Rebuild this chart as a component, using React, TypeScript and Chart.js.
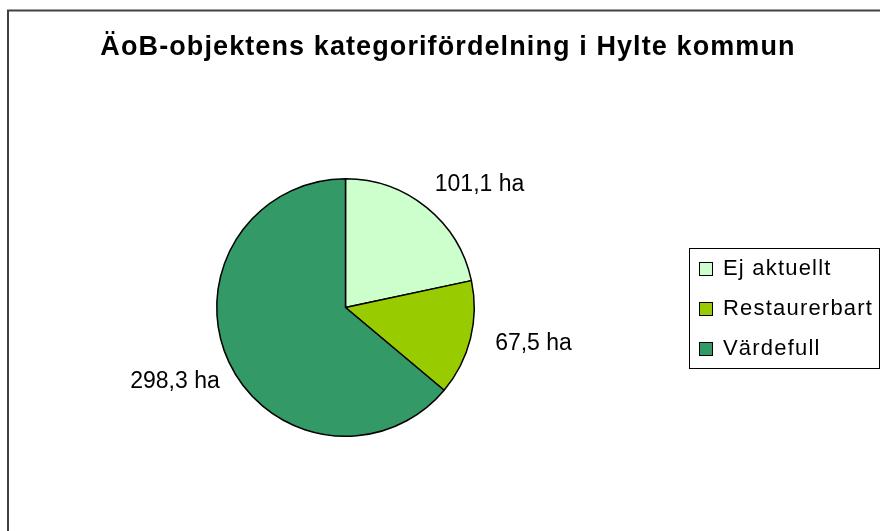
import React, { useEffect, useRef } from "react";
import { Chart, registerables } from "chart.js";

Chart.register(...registerables);

const title = "ÄoB-objektens kategorifördelning i Hylte kommun";
const categories = ["Ej aktuellt", "Restaurerbart", "Värdefull"];
const areas = [101.1, 67.5, 298.3];
const valueLabels = ["101,1 ha", "67,5 ha", "298,3 ha"];
const colors = ["#ccffcc", "#99cc00", "#339966"];

const FONT = "'Liberation Sans', Arial, sans-serif";

const decorPlugin = {
  id: "decor",
  beforeDraw(chart: any) {
    const ctx = chart.ctx;
    ctx.save();
    ctx.fillStyle = "#ffffff";
    ctx.fillRect(0, 0, chart.width, chart.height);
    ctx.restore();
  },
  afterDraw(chart: any) {
    const ctx = chart.ctx;
    ctx.save();
    // frame
    ctx.strokeStyle = "#404040";
    ctx.lineWidth = 2;
    ctx.beginPath();
    ctx.moveTo(8, 600);
    ctx.lineTo(8, 10.5);
    ctx.lineTo(900, 10.5);
    ctx.stroke();

    // title
    ctx.fillStyle = "#000";
    ctx.font = `bold 27px ${FONT}`;
    (ctx as any).letterSpacing = "1.1px";
    ctx.textAlign = "left";
    ctx.textBaseline = "alphabetic";
    const tw = ctx.measureText(title).width;
    ctx.fillText(title, 448 - tw / 2, 55);
    (ctx as any).letterSpacing = "0px";

    // value labels
    const meta = chart.getDatasetMeta(0);
    const nudges = [
      [2, -15],
      [15, 3],
      [0, 16],
    ];
    ctx.font = `23px ${FONT}`;
    meta.data.forEach((arc: any, i: number) => {
      const p = arc.getProps(["x", "y", "startAngle", "endAngle", "outerRadius"], true);
      const mid = (p.startAngle + p.endAngle) / 2;
      const R = p.outerRadius + 10;
      const ax = p.x + Math.cos(mid) * R + nudges[i][0];
      const ay = p.y + Math.sin(mid) * R + nudges[i][1];
      ctx.textAlign = Math.cos(mid) >= 0 ? "left" : "right";
      ctx.textBaseline = "middle";
      ctx.fillText(valueLabels[i], ax, ay);
    });

    // legend
    ctx.strokeStyle = "#000";
    ctx.lineWidth = 1;
    ctx.strokeRect(689.5, 248.5, 190, 120);
    ctx.font = `22px ${FONT}`;
    (ctx as any).letterSpacing = "1.2px";
    ctx.textAlign = "left";
    ctx.textBaseline = "middle";
    categories.forEach((c, i) => {
      const cy = 269 + i * 40;
      ctx.fillStyle = colors[i];
      ctx.fillRect(699.5, cy - 6.5, 13, 13);
      ctx.strokeRect(699.5, cy - 6.5, 13, 13);
      ctx.fillStyle = "#000";
      ctx.fillText(c, 723, cy);
    });
    ctx.restore();
  },
};

export default function App() {
  const ref = useRef<HTMLCanvasElement>(null);
  useEffect(() => {
    if (!ref.current) return;
    const chart = new Chart(ref.current, {
      type: "pie",
      data: {
        labels: categories,
        datasets: [
          {
            data: areas,
            backgroundColor: colors,
            borderColor: "#000000",
            borderWidth: 1.5,
          },
        ],
      },
      options: {
        responsive: false,
        animation: false,
        layout: { padding: { left: 216, right: 405, top: 178, bottom: 94 } },
        plugins: {
          legend: { display: false },
          title: { display: false },
          tooltip: { enabled: false },
        },
      },
      plugins: [decorPlugin],
    });
    return () => chart.destroy();
  }, []);
  return (
    <div style={{ position: "absolute", left: 0, top: 0, width: 880, height: 531 }}>
      <canvas ref={ref} width={880} height={531} style={{ width: 880, height: 531 }} />
    </div>
  );
}
